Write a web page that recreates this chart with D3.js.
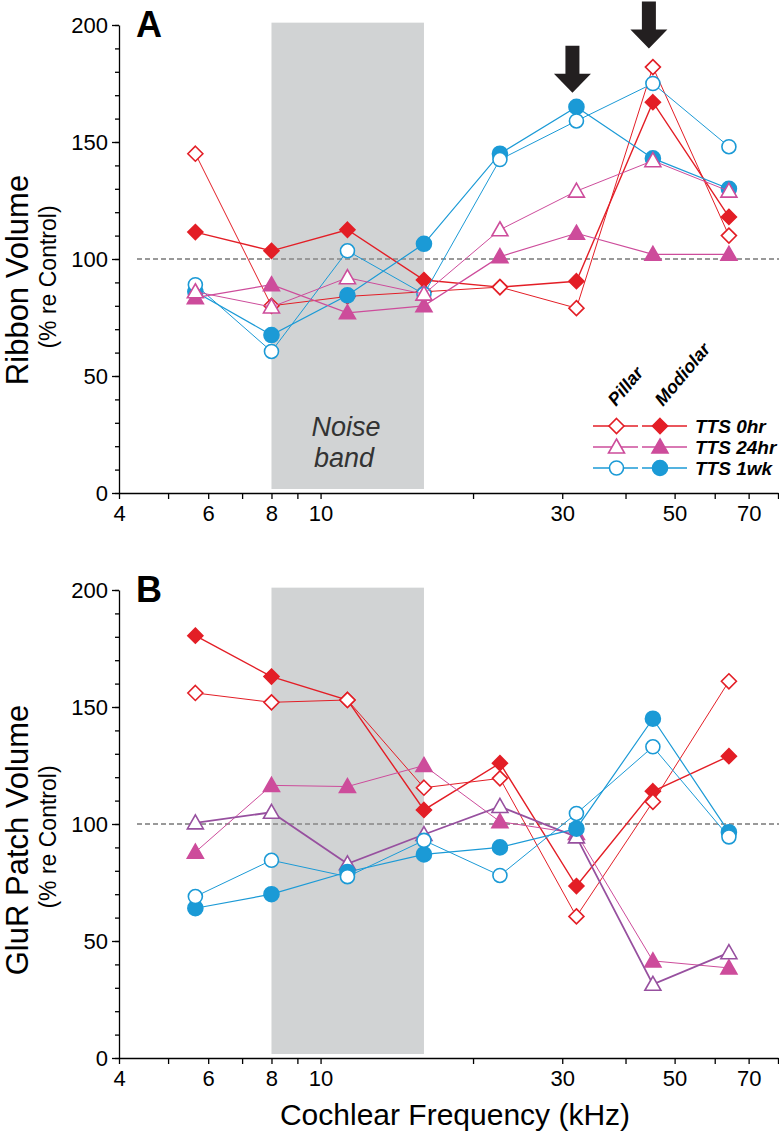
<!DOCTYPE html>
<html>
<head>
<meta charset="utf-8">
<script src="https://cdn.jsdelivr.net/npm/d3@7"></script>
<style>
  body { margin: 0; background: #fff; }
  svg { display: block; font-family: "Liberation Sans", Arial, sans-serif; }
</style>
</head>
<body>
<div id="chart"></div>
<script>
// Frequencies (kHz), half-octave spacing
var freqs = [5.66, 8, 11.3, 16, 22.6, 32, 45.3, 64];

// Panel A - Ribbon volume (% re control)
var ribbonPillar0 = [145, 80, 84, 86, 88, 79, 182, 110];
var ribbonModiolar0 = [111.5, 103.5, 112.5, 91, 88, 90.5, 167, 118];
var ribbonPillar24 = [86, 79.5, 92, 85, 112.5, 129, 142, 129];
var ribbonModiolar24 = [83.5, 89, 77, 80, 101, 111, 102, 102];
var ribbonPillar1wk = [89, 60.5, 103.5, 85, 142.5, 159, 175, 148];
var ribbonModiolar1wk = [86, 67.5, 84.5, 106.5, 145, 165, 143, 130];

// Panel B - GluR patch volume (% re control)
var glurPillar0 = [156, 152, 153, 115.5, 119.5, 60.5, 109.5, 161];
var glurModiolar0 = [180.5, 163, 153, 106, 126, 73.5, 114, 129];
var glurPillar24 = [100.5, 105, 83, 95.5, 107.5, 94.5, 31.5, 45];
var glurModiolar24 = [88, 116.5, 116, 125, 101, 96, 41.5, 38.5];
var glurPillar1wk = [69, 84.5, 77.5, 93, 78, 104.5, 133, 94.5];
var glurModiolar1wk = [64, 70, 79.5, 87, 90, 98, 145, 96.5];

var xTicks = [4, 5, 6, 7, 8, 9, 10, 20, 30, 40, 50, 60, 70, 80];
var xTickLabels = [4, 6, 8, 10, 30, 50, 70];
var yMajor = [0, 50, 100, 150, 200];
var noiseBand = [8, 16];
var legendRows = ["TTS 0hr", "TTS 24hr", "TTS 1wk"];
var arrowsA = [{khz: 32, tip: 171}, {khz: 45.3, tip: 190}];

var red = "#e31e26", pink = "#cd4c9b", purple = "#97509f", blue = "#1b9ad6";

var svg = d3.select("#chart").append("svg")
    .attr("width", 779)
    .attr("height", 1135);

var x = d3.scaleLog().domain([4, 80]).range([119, 778]);

// marker shapes
function marker(g, type, filled, color, cx, cy) {
    var fill = filled ? color : "#fff";
    if (type === "diamond") {
        g.append("path")
            .attr("d", `M${cx},${cy - 7.5}L${cx + 7.5},${cy}L${cx},${cy + 7.5}L${cx - 7.5},${cy}Z`)
            .attr("fill", fill).attr("stroke", color).attr("stroke-width", 1.6);
    } else if (type === "triangle") {
        g.append("path")
            .attr("d", `M${cx},${cy - 8}L${cx + 8},${cy + 6}L${cx - 8},${cy + 6}Z`)
            .attr("fill", fill).attr("stroke", color).attr("stroke-width", 1.6);
    } else {
        g.append("circle")
            .attr("cx", cx).attr("cy", cy).attr("r", filled ? 7.5 : 7)
            .attr("fill", fill).attr("stroke", color).attr("stroke-width", 1.6);
    }
}

function drawPanel(opts) {
    var y = d3.scaleLinear().domain([0, 200]).range([opts.bottom, opts.bottom - 468]);
    var g = svg.append("g");

    // noise band
    g.append("rect")
        .attr("x", x(noiseBand[0]))
        .attr("y", y(201))
        .attr("width", x(noiseBand[1]) - x(noiseBand[0]))
        .attr("height", y(0) - 4 - y(201))
        .attr("fill", "#d1d3d4");

    // 100% reference line
    g.append("line")
        .attr("x1", x.range()[0] + 18).attr("x2", 779)
        .attr("y1", y(100)).attr("y2", y(100))
        .attr("stroke", "#999").attr("stroke-width", 2)
        .attr("stroke-dasharray", "5,3");

    // y axis: minor ticks every 10, majors with labels
    g.append("g")
        .attr("transform", `translate(${x.range()[0]},0)`)
        .call(d3.axisLeft(y).tickValues(d3.range(0, 201, 10)).tickSize(4).tickSizeOuter(0).tickFormat(""))
        .call(a => a.selectAll("line,path").attr("stroke", "#000").attr("stroke-width", 1.3));
    g.append("g")
        .attr("transform", `translate(${x.range()[0]},0)`)
        .call(d3.axisLeft(y).tickValues(yMajor).tickSize(7).tickSizeOuter(0).tickPadding(4))
        .call(a => a.select(".domain").remove())
        .call(a => a.selectAll("line").attr("stroke", "#000").attr("stroke-width", 1.3))
        .call(a => a.selectAll("text").attr("font-size", 22).attr("font-family", "Liberation Sans, Arial, sans-serif").attr("fill", "#000"));

    // x axis
    g.append("g")
        .attr("transform", `translate(0,${y(0)})`)
        .call(d3.axisBottom(x).tickValues(xTicks).tickSize(6).tickSizeOuter(0).tickPadding(6)
            .tickFormat(d => xTickLabels.indexOf(d) >= 0 ? d : ""))
        .call(a => a.selectAll("line,path").attr("stroke", "#000").attr("stroke-width", 1.3))
        .call(a => a.selectAll("text").attr("font-size", 22).attr("font-family", "Liberation Sans, Arial, sans-serif").attr("fill", "#000"));

    // panel letter
    g.append("text")
        .attr("x", 136).attr("y", y(200) + 12)
        .attr("font-size", 36).attr("font-weight", "bold")
        .text(opts.letter);

    // y labels
    g.append("text")
        .attr("transform", `translate(28,${opts.labelY}) rotate(-90)`)
        .attr("text-anchor", "middle").attr("font-size", 31)
        .text(opts.title);
    g.append("text")
        .attr("transform", `translate(56,${opts.labelY - 3}) rotate(-90)`)
        .attr("text-anchor", "middle").attr("font-size", 23)
        .text("(% re Control)");

    // series
    opts.series.forEach(function(s) {
        var pts = freqs.map((f, i) => [x(f), y(s.values[i])]);
        g.append("path")
            .attr("d", d3.line()(pts))
            .attr("fill", "none")
            .attr("stroke", s.line || s.color)
            .attr("stroke-width", s.width);
        pts.forEach(p => marker(g, s.type, s.filled, s.color, p[0], p[1]));
    });
    return {g: g, y: y};
}

var A = drawPanel({
    bottom: 493, letter: "A", title: "Ribbon Volume", labelY: 280,
    series: [
        {values: ribbonModiolar0, type: "diamond", filled: true, color: red, width: 1.4},
        {values: ribbonPillar0, type: "diamond", filled: false, color: red, width: 1},
        {values: ribbonModiolar1wk, type: "circle", filled: true, color: blue, width: 1.2},
        {values: ribbonPillar1wk, type: "circle", filled: false, color: blue, width: 1},
        {values: ribbonModiolar24, type: "triangle", filled: true, color: pink, width: 1.2},
        {values: ribbonPillar24, type: "triangle", filled: false, color: pink, width: 1}
    ]
});

var B = drawPanel({
    bottom: 1058, letter: "B", title: "GluR Patch Volume", labelY: 840,
    series: [
        {values: glurModiolar0, type: "diamond", filled: true, color: red, width: 1.4},
        {values: glurPillar0, type: "diamond", filled: false, color: red, width: 1},
        {values: glurModiolar24, type: "triangle", filled: true, color: pink, width: 1},
        {values: glurPillar24, type: "triangle", filled: false, color: purple, line: purple, width: 1.8},
        {values: glurModiolar1wk, type: "circle", filled: true, color: blue, width: 1.2},
        {values: glurPillar1wk, type: "circle", filled: false, color: blue, width: 1}
    ]
});

// Noise band label
A.g.append("text")
    .attr("x", 346).attr("y", 436)
    .attr("text-anchor", "middle").attr("font-size", 27).attr("font-style", "italic")
    .attr("fill", "#333").text("Noise");
A.g.append("text")
    .attr("x", 344).attr("y", 467)
    .attr("text-anchor", "middle").attr("font-size", 27).attr("font-style", "italic")
    .attr("fill", "#333").text("band");

// Arrows above the peak points
arrowsA.forEach(function(a) {
    var cx = x(a.khz) - 4, tip = A.y(a.tip);
    A.g.append("path")
        .attr("d", `M${cx - 7},${tip - 47}L${cx + 7},${tip - 47}L${cx + 7},${tip - 19}L${cx + 18.5},${tip - 19}` +
            `L${cx},${tip}L${cx - 18.5},${tip - 19}L${cx - 7},${tip - 19}Z`)
        .attr("fill", "#231f20");
});

// Legend
var legend = A.g.append("g");
var legendColors = [red, pink, blue];
var legendTypes = ["diamond", "triangle", "circle"];
legendRows.forEach(function(label, i) {
    var ly = 426 + i * 21;
    legend.append("line").attr("x1", 593).attr("x2", 638).attr("y1", ly).attr("y2", ly)
        .attr("stroke", legendColors[i]).attr("stroke-width", 1.6);
    legend.append("line").attr("x1", 642).attr("x2", 687).attr("y1", ly).attr("y2", ly)
        .attr("stroke", legendColors[i]).attr("stroke-width", 1.6);
    marker(legend, legendTypes[i], false, legendColors[i], 616.5, ly);
    marker(legend, legendTypes[i], true, legendColors[i], 660, ly);
    legend.append("text")
        .attr("x", 695).attr("y", ly + 7)
        .attr("font-size", 19).attr("font-weight", "bold").attr("font-style", "italic")
        .text(label);
});
legend.append("text")
    .attr("transform", "translate(616,407) rotate(-50)")
    .attr("font-size", 18).attr("font-weight", "bold").attr("font-style", "italic")
    .text("Pillar");
legend.append("text")
    .attr("transform", "translate(663,407) rotate(-50)")
    .attr("font-size", 18).attr("font-weight", "bold").attr("font-style", "italic")
    .text("Modiolar");

// x axis title
svg.append("text")
    .attr("x", 455).attr("y", 1125)
    .attr("text-anchor", "middle").attr("font-size", 30)
    .text("Cochlear Frequency (kHz)");
</script>
</body>
</html>
